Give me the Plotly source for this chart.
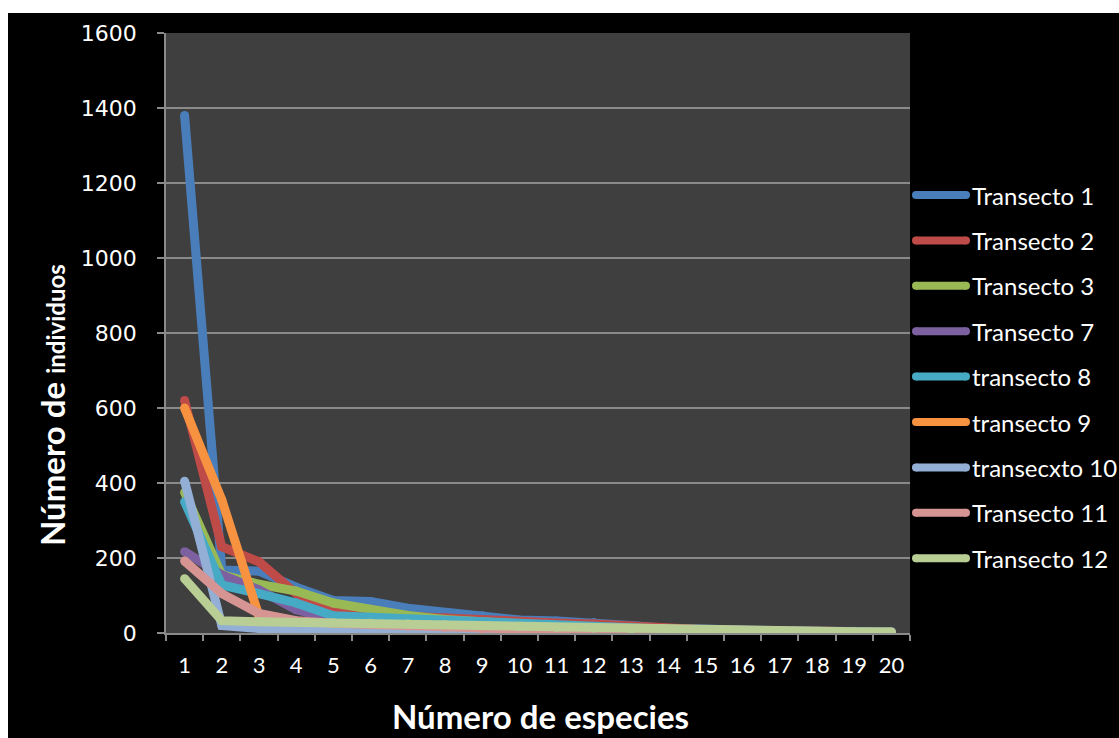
import plotly.graph_objects as go

# Rank of each species within a transect (1 = most abundant)
especies = [str(i) for i in range(1, 21)]

# Individuals per species, ordered by abundance, for each transect
transecto_1 = [1380, 168, 165, 122, 87, 84, 66, 55, 46, 35, 32, 28, 20, 13, 9, 7, 6, 5, 4, 3.5]
transecto_2 = [620, 230, 190, 105, 62, 52, 45, 40, 34, 30, 27, 24, 18, 12, 9, 7, 6, 5, 4, 3]
transecto_3 = [375, 155, 130, 112, 80, 62, 47, 36, 28, 22, 18, 14, 11, 8, 6, 5, 4, 3, 2, 2]
transecto_7 = [217, 155, 115, 62, 38, 28, 22, 18, 14, 11, 9, 7, 6, 5, 4, 3, 3, 2, 2, 2]
transecto_8 = [350, 128, 105, 80, 46, 42, 33, 28, 25, 22, 19, 16, 12, 10, 8, 6, 5, 4, 3, 2]
transecto_9 = [600, 355, 45, 28, 22, 18, 15, 12, 10, 8, 6, 5, 4, 3, 3, 2, 2, 1, 1, 1]
transecto_10 = [405, 20, 12, 9, 7, 6, 5, 4, 3, 2, 2, 1, 1, 1, 1, 1, 1, 1, 1, 1]
transecto_11 = [192, 105, 52, 33, 26, 22, 18, 15, 11, 9, 7, 6, 5, 4, 3, 3, 2, 2, 1, 1]
transecto_12 = [145, 33, 30, 28, 27, 26, 24, 22, 20, 18, 15, 13, 10, 9, 7, 6, 5, 4, 3.5, 3]

nombres = ["Transecto 1", "Transecto 2", "Transecto 3", "Transecto 7", "transecto 8",
           "transecto 9", "transecxto 10", "Transecto 11", "Transecto 12"]
series = [transecto_1, transecto_2, transecto_3, transecto_7, transecto_8,
          transecto_9, transecto_10, transecto_11, transecto_12]
colores = ["#4A7EBB", "#BE4B48", "#98B954", "#7D60A0", "#46AAC5",
           "#F69240", "#94AFD6", "#D69593", "#B9CE95"]

W, H = 1119, 738
L, R, T, B = 166, 910, 33, 633  # plot area in pixels


def px(x):
    return (x - L) / (R - L)


def py(y):
    return (B - y) / (B - T)


LW = 9
fig = go.Figure()
for nombre, vals, col in zip(nombres, series, colores):
    fig.add_trace(go.Scatter(
        x=especies, y=vals, name=nombre, mode="lines+markers",
        line=dict(color=col, width=LW),
        marker=dict(color=col, size=LW, line=dict(width=0)),
        showlegend=False, hoverinfo="skip",
    ))

grid = "#8A8A8A"
fig.update_layout(
    width=W, height=H,
    margin=dict(l=L, r=W - R, t=T, b=H - B, pad=0),
    paper_bgcolor="#000000",
    plot_bgcolor="#3F3F3F",
    showlegend=False,
    xaxis=dict(
        type="category", tickson="boundaries", range=[-0.5, 19.5],
        showgrid=False, zeroline=False,
        showline=True, linecolor=grid, linewidth=1.5,
        ticks="outside", ticklen=6, tickcolor=grid, tickwidth=1.5,
        tickangle=0,
        tickfont=dict(family="Lato, sans-serif", size=22, color="white"),
        ticklabelstandoff=12,
    ),
    yaxis=dict(
        range=[0, 1600], dtick=200, tick0=0,
        showgrid=True, gridcolor=grid, gridwidth=1.5, zeroline=False,
        showline=True, linecolor=grid, linewidth=1.5,
        ticks="outside", ticklen=7, tickcolor=grid, tickwidth=1.5,
        tickfont=dict(family="DejaVu Sans, sans-serif", size=22, color="white"),
        ticklabelstandoff=16,
    ),
)

shapes = [
    # white margin along the top and left edges of the page
    dict(type="rect", xref="paper", yref="paper", layer="above",
         x0=px(0), x1=px(W), y0=py(13), y1=py(0),
         fillcolor="white", line=dict(width=0)),
    dict(type="rect", xref="paper", yref="paper", layer="above",
         x0=px(0), x1=px(8), y0=py(H), y1=py(0),
         fillcolor="white", line=dict(width=0)),
]

annotations = [
    dict(text="<b>Número de especies</b>", xref="paper", yref="paper",
         x=px(540), y=py(716), xanchor="center", yanchor="middle", showarrow=False,
         font=dict(family="Lato, sans-serif", size=33, color="white")),
    dict(text="<b>Número de <span style='font-size:24px'>individuos</span></b>",
         xref="paper", yref="paper", textangle=-90,
         x=px(52), y=py(405), xanchor="center", yanchor="middle", showarrow=False,
         font=dict(family="Lato, sans-serif", size=33, color="white")),
]

# legend: thick rounded line sample followed by the series name
y_leg0, dy_leg = 195, 45.4
for i, (nombre, col) in enumerate(zip(nombres, colores)):
    yc = y_leg0 + i * dy_leg
    x0, x1 = 916, 966
    shapes.append(dict(type="line", xref="paper", yref="paper", layer="above",
                       x0=px(x0), x1=px(x1), y0=py(yc), y1=py(yc),
                       line=dict(color=col, width=8)))
    for xe in (x0, x1):
        shapes.append(dict(type="circle", xref="paper", yref="paper", layer="above",
                           xsizemode="pixel", ysizemode="pixel",
                           xanchor=px(xe), yanchor=py(yc),
                           x0=-4, x1=4, y0=-4, y1=4,
                           fillcolor=col, line=dict(width=0)))
    annotations.append(dict(text=nombre, xref="paper", yref="paper",
                            x=px(970), y=py(yc), xanchor="left", yanchor="middle",
                            showarrow=False,
                            font=dict(family="Lato, sans-serif", size=24, color="white")))

fig.update_layout(shapes=shapes, annotations=annotations)
fig.write_html("out.html")
